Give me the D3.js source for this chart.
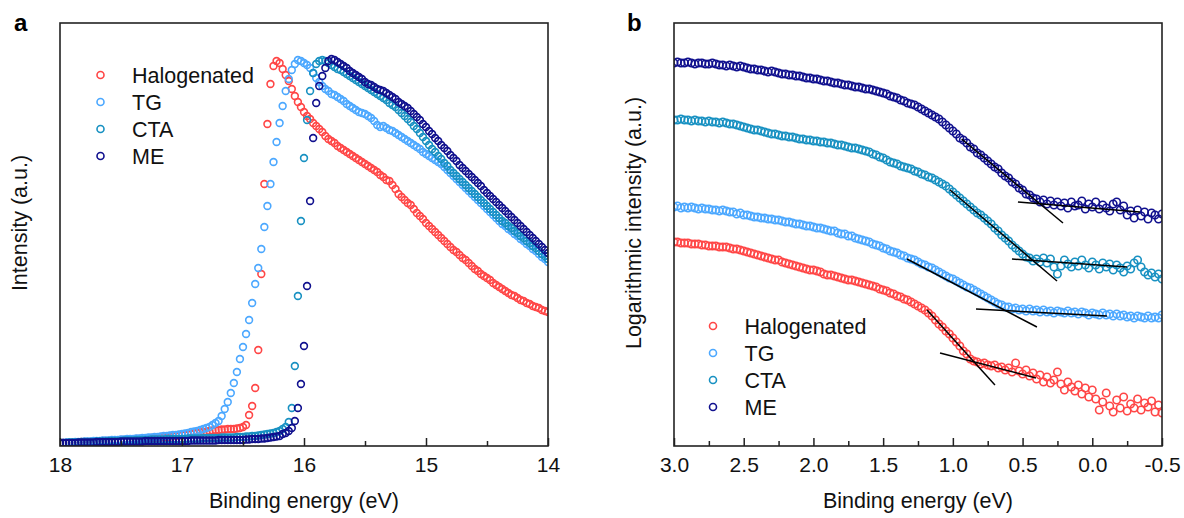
<!DOCTYPE html>
<html>
<head>
<meta charset="utf-8">
<script src="https://cdn.jsdelivr.net/npm/d3@7"></script>
<style>
  body { margin: 0; background: #fff; }
  svg { display: block; font-family: "Liberation Sans", Arial, sans-serif; }
</style>
</head>
<body>
<svg id="chart" width="1184" height="518"></svg>
<script>
//
// Data
//

// sample names and colours, same order in both panels
var seriesNames = ['Halogenated', 'TG', 'CTA', 'ME']
var seriesColors = ['#ff4646', '#4ca8ff', '#1891c2', '#10108e']

// panel a: measurement grid, 18 eV down to 14 eV every 0.025 eV
var energyA = d3.range(161).map(function(i) { return +(18 - i * 0.025).toFixed(3) })

// panel a intensities (a.u.), one value per grid point
var halogenatedA = [
  3,3,3,3,3.5,3.5,3.5,4,4,4,
  4,4.5,4.5,4.5,5,5,5,5,5.5,5.5,
  6,6,6,6.5,6.5,7,7,7,7.5,7.5,
  8,8,8.5,8.5,9,9,9.5,10,10,10.5,
  11,11,11.5,12,12.5,13,13.5,14,14.5,15,
  15.5,16,16,16.5,16.5,17,17,17,17.5,18,
  19,21,31,40,58,96,172,262,322,362,
  380,385,383,377,371,365,357,350,344,339,
  334,330,327,323,320,317,314,310,307,305,
  303,300,298,296,294,292,290,288,286,284,
  282,280,278,276,274,271,269,266,265,261,
  257,252,249,246,243,241,237,233,230,227,
  223,220,217,214,211,208,205,202,199,196,
  194,191,188,186,183,180,177,175,172,170,
  168,166,163,161,159,157,155,153,151,150,
  148,146,145,143,142,140,139,138,136,135,134
]
var tgA = [
  3,3,3.5,3.5,3.5,4,4,4,4.5,4.5,
  4.5,5,5,5,5.5,5.5,5.5,6,6,6,
  6.5,6.5,7,7,7,7.5,7.5,8,8,8.5,
  8.5,9,9,9.5,10,10,10.5,11,11,11.5,
  12,12.5,13,14,14.5,15,16,17,18,19,
  21,23,25,30,37,44,53,63,74,87,
  99,112,126,143,162,178,197,219,240,262,
  284,304,323,340,355,367,376,382,386,385,
  383,381,378,373,368,364,360,357,355,352,
  351,349,347,345,342,340,338,336,334,333,
  332,330,328,325,321,319,320,318,316,315,
  313,311,309,307,305,303,301,299,297,294,
  292,290,288,286,284,282,279,276,273,270,
  267,264,261,258,255,252,249,246,243,240,
  237,234,231,228,225,222,220,217,215,212,
  210,207,205,202,200,197,195,192,189,187,184
]
var ctaA = [
  3,3,3,3.5,3.5,3.5,3.5,4,4,4,
  4,4,4.5,4.5,4.5,4.5,5,5,5,5,
  5,5.5,5.5,5.5,5.5,6,6,6,6,6,
  6.5,6.5,6.5,6.5,6.5,7,7,7,7,7,
  7,7,7.5,7.5,7.5,7.5,7.5,8,8,8,
  8,8,8,8.5,8.5,8.5,8.5,8.5,9,9,
  9,9.5,9.5,10,10,10.5,11,11.5,12,12.5,
  13,14,15,17,19,24,38,80,150,225,
  288,326,355,373,382,385,386,385,383,381,
  379,377,376,374,372,370,368,366,364,362,
  360,358,356,354,352,350,348,346,343,341,
  339,336,333,330,327,324,320,317,313,309,
  305,301,297,294,290,287,283,280,276,273,
  270,267,264,261,258,255,252,249,246,243,
  240,237,234,231,228,225,223,220,218,215,
  213,210,208,205,203,200,198,195,192,190,187
]
var meA = [
  3,3,3,3,3,3,3.5,3.5,3.5,3.5,
  3.5,3.5,4,4,4,4,4,4,4,4,
  4.5,4.5,4.5,4.5,4.5,4.5,4.5,4.5,5,5,
  5,5,5,5,5,5,5,5,5,5,
  5,5,5,5.5,5.5,5.5,5.5,5.5,5.5,5.5,
  5.5,5.5,6,6,6,6,6,6,6,6,
  6,6.5,6.5,7,7,7,7.5,7.5,8,8.5,
  9,9.5,10,12,13,15,18,25,38,62,
  100,160,245,308,343,360,370,378,385,387,
  386,384,382,380,378,375,373,371,369,367,
  364,362,361,359,357,356,355,353,351,349,
  347,344,342,340,338,335,332,329,326,322,
  319,315,312,308,305,301,298,295,291,288,
  285,281,278,275,272,269,266,263,260,256,
  253,250,247,244,241,238,235,232,229,226,
  223,220,217,214,211,208,205,202,199,196,193
]

// panel b: measurement grid, 3.0 eV down to -0.5 eV every 0.025 eV
var energyB = d3.range(141).map(function(i) { return +(3 - i * 0.025).toFixed(3) })

// panel b logarithmic intensities (a.u.)
var halogenatedB = [
  2.04,2.04,2.03,2.03,2.03,2.02,2.02,2.02,2.01,2.01,
  2.00,2.00,2.00,1.99,1.99,1.99,1.98,1.97,1.97,1.96,
  1.95,1.94,1.93,1.92,1.91,1.90,1.89,1.88,1.87,1.86,
  1.86,1.84,1.83,1.82,1.81,1.80,1.79,1.78,1.77,1.76,
  1.76,1.75,1.74,1.72,1.71,1.71,1.70,1.69,1.68,1.67,
  1.66,1.66,1.65,1.64,1.63,1.62,1.61,1.60,1.59,1.57,
  1.56,1.55,1.53,1.52,1.50,1.49,1.47,1.46,1.44,1.42,
  1.40,1.38,1.36,1.33,1.30,1.26,1.22,1.19,1.15,1.12,
  1.08,1.04,1.00,0.95,0.92,0.87,0.85,0.84,0.82,0.83,
  0.81,0.80,0.81,0.78,0.79,0.76,0.78,0.74,0.83,0.75,
  0.72,0.76,0.70,0.73,0.67,0.71,0.64,0.69,0.63,0.66,
  0.74,0.62,0.56,0.64,0.59,0.55,0.61,0.52,0.58,0.49,
  0.56,0.47,0.36,0.44,0.53,0.40,0.34,0.46,0.38,0.49,
  0.35,0.42,0.38,0.47,0.36,0.43,0.39,0.45,0.34,0.41,
  0.33
]
var tgB = [
  2.39,2.40,2.38,2.39,2.38,2.39,2.38,2.37,2.38,2.37,
  2.37,2.36,2.36,2.35,2.36,2.35,2.34,2.34,2.32,2.33,
  2.31,2.31,2.30,2.29,2.29,2.28,2.28,2.27,2.27,2.26,
  2.26,2.25,2.24,2.24,2.23,2.22,2.22,2.21,2.20,2.20,
  2.19,2.18,2.18,2.17,2.16,2.15,2.15,2.13,2.12,2.12,
  2.10,2.10,2.08,2.07,2.06,2.05,2.04,2.02,2.01,2.00,
  1.98,1.97,1.95,1.94,1.93,1.91,1.90,1.88,1.87,1.86,
  1.84,1.82,1.81,1.79,1.78,1.76,1.74,1.72,1.70,1.68,
  1.67,1.65,1.63,1.61,1.59,1.58,1.56,1.54,1.52,1.50,
  1.48,1.46,1.44,1.42,1.41,1.39,1.39,1.37,1.38,1.36,
  1.37,1.35,1.37,1.35,1.36,1.34,1.36,1.34,1.35,1.33,
  1.35,1.34,1.33,1.35,1.33,1.34,1.32,1.34,1.33,1.31,
  1.33,1.32,1.31,1.33,1.31,1.32,1.30,1.32,1.30,1.31,
  1.29,1.30,1.28,1.30,1.29,1.28,1.30,1.28,1.29,1.28,
  1.31
]
var ctaB = [
  3.26,3.26,3.27,3.26,3.26,3.25,3.26,3.25,3.25,3.24,
  3.25,3.24,3.24,3.23,3.24,3.23,3.22,3.22,3.21,3.20,
  3.19,3.18,3.17,3.16,3.16,3.15,3.14,3.13,3.12,3.12,
  3.11,3.10,3.10,3.09,3.09,3.08,3.07,3.07,3.06,3.06,
  3.05,3.05,3.04,3.04,3.03,3.03,3.02,3.01,3.01,3.00,
  2.99,2.98,2.98,2.97,2.96,2.95,2.94,2.92,2.91,2.89,
  2.88,2.86,2.84,2.83,2.82,2.80,2.79,2.78,2.77,2.75,
  2.74,2.72,2.71,2.69,2.68,2.66,2.64,2.62,2.60,2.57,
  2.54,2.51,2.48,2.45,2.42,2.39,2.36,2.33,2.31,2.28,
  2.25,2.22,2.18,2.15,2.11,2.08,2.05,2.01,1.98,1.95,
  1.92,1.89,1.88,1.85,1.87,1.84,1.88,1.83,1.87,1.79,
  1.72,1.80,1.86,1.82,1.79,1.84,1.80,1.86,1.81,1.78,
  1.84,1.81,1.77,1.83,1.79,1.82,1.76,1.81,1.78,1.74,
  1.80,1.77,1.83,1.86,1.79,1.74,1.71,1.73,1.69,1.72,
  1.67
]
var meB = [
  3.83,3.84,3.83,3.83,3.84,3.83,3.82,3.83,3.83,3.82,
  3.82,3.83,3.82,3.81,3.81,3.80,3.81,3.80,3.79,3.80,
  3.79,3.78,3.77,3.77,3.76,3.76,3.75,3.74,3.75,3.74,
  3.73,3.72,3.72,3.71,3.71,3.70,3.70,3.69,3.68,3.68,
  3.67,3.67,3.66,3.65,3.65,3.64,3.63,3.63,3.62,3.61,
  3.61,3.60,3.59,3.59,3.58,3.57,3.57,3.56,3.55,3.54,
  3.53,3.52,3.50,3.49,3.48,3.46,3.45,3.43,3.42,3.41,
  3.39,3.37,3.35,3.33,3.31,3.29,3.27,3.24,3.21,3.18,
  3.15,3.12,3.08,3.06,3.03,2.99,2.97,2.93,2.91,2.88,
  2.85,2.82,2.79,2.77,2.73,2.70,2.68,2.64,2.62,2.58,
  2.56,2.52,2.51,2.48,2.47,2.44,2.46,2.42,2.45,2.41,
  2.44,2.40,2.43,2.38,2.44,2.40,2.41,2.45,2.37,2.42,
  2.39,2.44,2.37,2.41,2.38,2.35,2.42,2.44,2.36,2.40,
  2.31,2.35,2.28,2.36,2.30,2.34,2.27,2.33,2.31,2.27,
  2.32
]

// panel b linear fits (onset extrapolation): [start, end] energies and values
var fitSeries = ['ME', 'ME', 'CTA', 'CTA', 'TG', 'TG', 'Halogenated', 'Halogenated']
var fitEnergy = [[0.937, 0.21], [0.533, -0.342], [1.02, 0.253], [0.576, -0.249],
                 [1.329, 0.397], [0.834, -0.105], [1.185, 0.698], [1.092, 0.404]]
var fitValue = [[3.07, 2.23], [2.44, 2.34], [2.56, 1.65], [1.87, 1.79],
                [1.87, 1.19], [1.37, 1.30], [1.36, 0.61], [0.93, 0.68]]

// axis ticks
var ticksA = [18, 17, 16, 15, 14]
var minorTicksA = [17.5, 16.5, 15.5, 14.5]
var ticksB = [3, 2.5, 2, 1.5, 1, 0.5, 0, -0.5]
var minorTicksB = [2.75, 2.25, 1.75, 1.25, 0.75, 0.25, -0.25]

//
// Drawing
//

var svg = d3.select('#chart')
var textColor = '#111'

function drawPanel(p) {
  var x = d3.scaleLinear().domain(p.xDomain).range([p.left, p.right])
  var y = d3.scaleLinear().domain(p.yDomain).range([p.bottom, p.top])
  var g = svg.append('g')

  g.append('clipPath').attr('id', p.id + '-clip')
    .append('rect')
    .attr('x', p.left).attr('y', p.top)
    .attr('width', p.right - p.left).attr('height', p.bottom - p.top)

  var plot = g.append('g').attr('clip-path', 'url(#' + p.id + '-clip)')

  p.series.forEach(function(values, k) {
    plot.append('g')
      .selectAll('circle')
      .data(values.map(function(v, i) { return [p.energy[i], v] }))
      .enter()
      .append('circle')
      .attr('cx', function(d) { return x(d[0]) })
      .attr('cy', function(d) { return y(d[1]) })
      .attr('r', p.radius)
      .attr('fill', 'none')
      .attr('stroke', seriesColors[k])
      .attr('stroke-width', 1.6)
  })

  if (p.fits) {
    p.fits.energy.forEach(function(e, i) {
      plot.append('line')
        .attr('x1', x(e[0])).attr('y1', y(p.fits.value[i][0]))
        .attr('x2', x(e[1])).attr('y2', y(p.fits.value[i][1]))
        .attr('stroke', '#000')
        .attr('stroke-width', 1.5)
    })
  }

  // minor ticks (no labels)
  var minor = g.append('g')
    .attr('transform', 'translate(0,' + p.bottom + ')')
    .call(d3.axisBottom(x).tickValues(p.minorTicks).tickSize(-5).tickFormat(''))
  // major ticks with labels
  var major = g.append('g')
    .attr('transform', 'translate(0,' + p.bottom + ')')
    .call(d3.axisBottom(x).tickValues(p.ticks).tickSize(-8).tickPadding(11).tickFormat(p.format))

  ;[minor, major].forEach(function(ax) {
    ax.select('.domain').remove()
    ax.selectAll('line').attr('stroke', '#222').attr('stroke-width', 1.5)
    ax.selectAll('text')
      .attr('fill', textColor)
      .style('font-size', '21px')
      .style('font-family', '"Liberation Sans", Arial, sans-serif')
  })

  // frame
  g.append('rect')
    .attr('x', p.left).attr('y', p.top)
    .attr('width', p.right - p.left).attr('height', p.bottom - p.top)
    .attr('fill', 'none')
    .attr('stroke', '#222')
    .attr('stroke-width', 1.6)

  // axis titles
  g.append('text')
    .attr('x', (p.left + p.right) / 2).attr('y', 508)
    .attr('text-anchor', 'middle')
    .attr('fill', textColor)
    .style('font-size', '21.5px')
    .text('Binding energy (eV)')

  g.append('text')
    .attr('transform', 'translate(' + p.yTitleX + ',223) rotate(-90)')
    .attr('text-anchor', 'middle')
    .attr('fill', textColor)
    .style('font-size', '21.5px')
    .text(p.yTitle)

  // panel letter
  g.append('text')
    .attr('x', p.labelX).attr('y', 31)
    .attr('fill', '#000')
    .style('font-size', '24px')
    .style('font-weight', 'bold')
    .text(p.label)

  // legend
  var legend = g.append('g')
  seriesNames.forEach(function(name, k) {
    var ly = p.legendY + k * 27
    legend.append('circle')
      .attr('cx', p.legendX).attr('cy', ly).attr('r', 3.5)
      .attr('fill', 'none')
      .attr('stroke', seriesColors[k])
      .attr('stroke-width', 1.6)
    legend.append('text')
      .attr('x', p.legendX + 31.5).attr('y', ly + 7.5)
      .attr('fill', textColor)
      .style('font-size', '21.5px')
      .text(name)
  })
}

drawPanel({
  id: 'pa', label: 'a', labelX: 14,
  left: 60, right: 548, top: 23, bottom: 446,
  xDomain: [18, 14], yDomain: [0, 423],
  energy: energyA,
  series: [halogenatedA, tgA, ctaA, meA],
  radius: 3.4,
  ticks: ticksA, minorTicks: minorTicksA,
  format: function(d) { return String(d) },
  yTitle: 'Intensity (a.u.)', yTitleX: 27,
  legendX: 100.5, legendY: 75
})

drawPanel({
  id: 'pb', label: 'b', labelX: 627,
  left: 674, right: 1162, top: 23, bottom: 446,
  xDomain: [3, -0.5], yDomain: [0, 4.23],
  energy: energyB,
  series: [halogenatedB, tgB, ctaB, meB],
  radius: 3.7,
  fits: { energy: fitEnergy, value: fitValue, series: fitSeries },
  ticks: ticksB, minorTicks: minorTicksB,
  format: function(d) { return d.toFixed(1) },
  yTitle: 'Logarithmic intensity (a.u.)', yTitleX: 641,
  legendX: 713, legendY: 326
})
</script>
</body>
</html>
